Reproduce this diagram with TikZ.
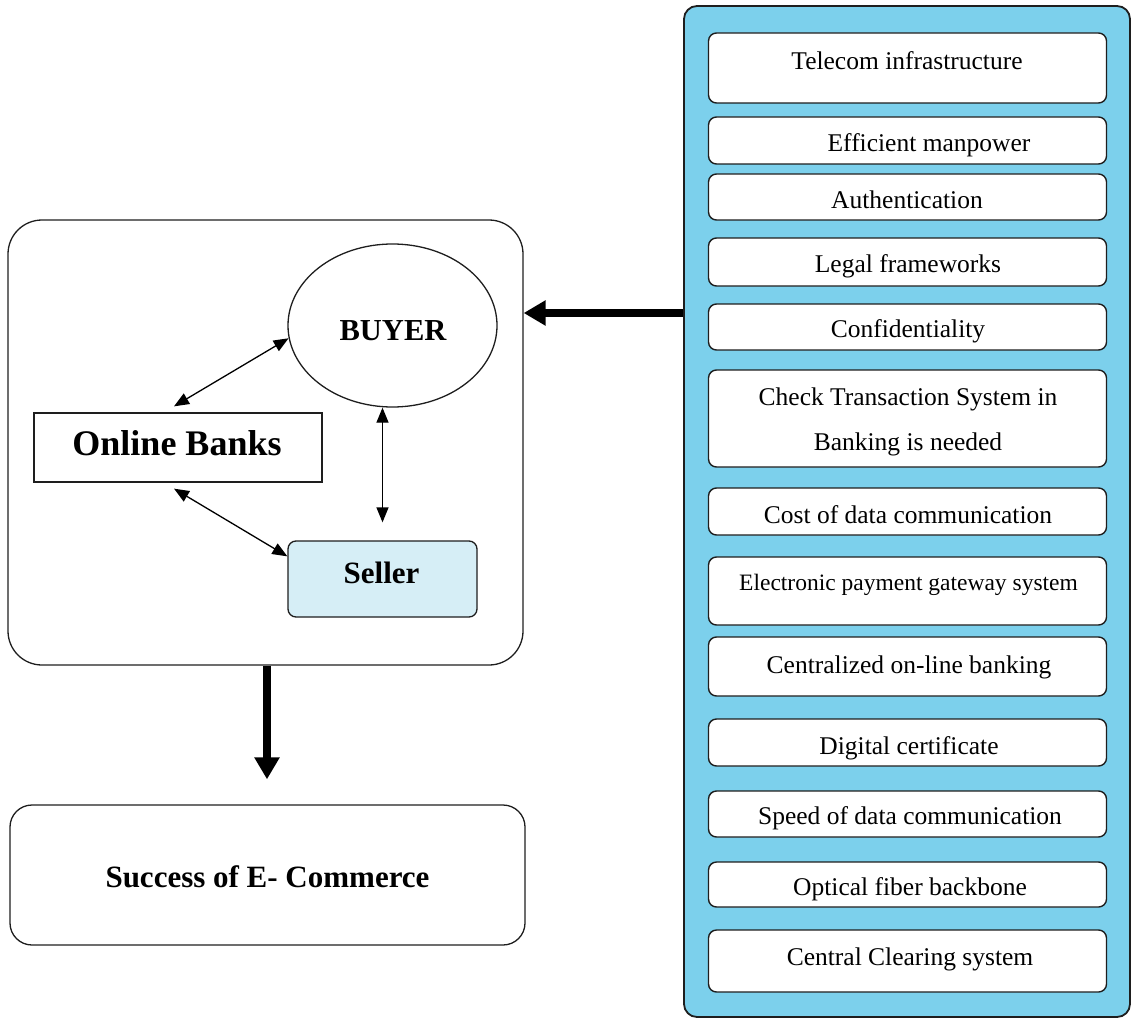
\documentclass[tikz,border=0pt]{standalone}
\usepackage{fontspec}
\setmainfont{Liberation Serif}
\usetikzlibrary{arrows.meta,shapes.geometric,calc}
\definecolor{panelblue}{RGB}{124,208,236}
\definecolor{sellerblue}{RGB}{214,238,246}
\definecolor{edge}{RGB}{30,30,30}
\begin{document}
\begin{tikzpicture}[x=1pt,y=-1pt,
  panel/.style={draw=edge, line width=1.8pt, fill=panelblue, rounded corners=13pt, inner sep=0pt},
  itembox/.style={draw=edge, line width=1.4pt, fill=white, rounded corners=8pt, minimum width=398pt, inner sep=0pt},
  itemtext/.style={anchor=base, inner sep=0pt, font=\fontsize{25.5}{30}\selectfont},
  corebox/.style={draw=edge, line width=1.3pt, rounded corners=34pt, inner sep=0pt},
  endbox/.style={draw=edge, line width=1.3pt, rounded corners=22pt, inner sep=0pt},
  plainbox/.style={draw=edge, line width=1.3pt, inner sep=0pt},
  sellerbox/.style={draw=edge, line width=1.3pt, fill=sellerblue, rounded corners=8pt, inner sep=0pt},
  buyershape/.style={draw=edge, line width=1.3pt, ellipse, inner sep=0pt},
  boldtext/.style={anchor=base, inner sep=0pt, font=\bfseries\fontsize{#1}{#1}\selectfont},
  thinlink/.style={line width=1.3pt, {Triangle[length=15pt,width=12pt]}-{Triangle[length=15pt,width=12pt]}},
  flow/.style={line width=8pt, -{Triangle[length=22pt,width=24pt]}}
]
\useasboundingbox (0,0) rectangle (1134,1019);

% ---- factor panel on the right ----
\node[panel, minimum width=446pt, minimum height=1011pt] (panel) at (907,511.5) {};

\node[itembox, minimum height=70pt] (b1)  at (907.5,68)    {};
\node[itembox, minimum height=47pt] (b2)  at (907.5,140.5) {};
\node[itembox, minimum height=46pt] (b3)  at (907.5,197)   {};
\node[itembox, minimum height=48pt] (b4)  at (907.5,262)   {};
\node[itembox, minimum height=46pt] (b5)  at (907.5,327)   {};
\node[itembox, minimum height=97pt] (b6)  at (907.5,418.5) {};
\node[itembox, minimum height=47pt] (b7)  at (907.5,511.5) {};
\node[itembox, minimum height=68pt] (b8)  at (907.5,591)   {};
\node[itembox, minimum height=59pt] (b9)  at (907.5,666.5) {};
\node[itembox, minimum height=47pt] (b10) at (907.5,742.5) {};
\node[itembox, minimum height=46pt] (b11) at (907.5,814)   {};
\node[itembox, minimum height=45pt] (b12) at (907.5,884.5) {};
\node[itembox, minimum height=62pt] (b13) at (907.5,961)   {};

\node[itemtext] (t1)  at (907,70)  {Telecom infrastructure};
\node[itemtext] (t2)  at (929,152) {Efficient manpower};
\node[itemtext] (t3)  at (907,208) {Authentication};
\node[itemtext] (t4)  at (908,272) {Legal frameworks};
\node[itemtext] (t5)  at (908,337) {Confidentiality};
\node[itemtext] (t6a) at (908,405) {Check Transaction System in};
\node[itemtext] (t6b) at (908,450) {Banking is needed};
\node[itemtext] (t7)  at (908,523) {Cost of data communication};
\node[itemtext, font=\fontsize{23.5}{28}\selectfont] (t8) at (908.5,590) {Electronic payment gateway system};
\node[itemtext] (t9)  at (909,673) {Centralized on-line banking};
\node[itemtext] (t10) at (909,754) {Digital certificate};
\node[itemtext] (t11) at (910,824) {Speed of data communication};
\node[itemtext] (t12) at (910,895) {Optical fiber backbone};
\node[itemtext] (t13) at (910,965) {Central Clearing system};

% ---- transaction parties on the left ----
\node[corebox, minimum width=515pt, minimum height=445pt] (core) at (265.5,442.5) {};
\node[buyershape, minimum width=209pt, minimum height=163pt] (buyer) at (392.5,325.5) {};
\node[boldtext=30.5] (buyertext) at (393,340) {BUYER};
\node[plainbox, minimum width=288pt, minimum height=69pt] (banks) at (178,447.5) {};
\node[boldtext=36] (bankstext) at (177,455) {Online Banks};
\node[sellerbox, minimum width=189pt, minimum height=76pt] (seller) at (382.5,579) {};
\node[boldtext=31] (sellertext) at (381.5,583) {Seller};

\node[endbox, minimum width=515pt, minimum height=140pt] (success) at (267.5,875) {};
\node[boldtext=31] (successtext) at (267.5,887) {Success of E- Commerce};

% ---- links ----
\draw[thinlink] ([xshift=-4pt,yshift=6pt]banks.north) -- (buyer.187);
\draw[thinlink] ([xshift=-4pt,yshift=-6pt]banks.south) -- ([yshift=-16pt]seller.north west);
\draw[thinlink] (seller.north |- buyer.south) -- ([yshift=18pt]seller.north);

\coordinate (feedrow) at (0,313);
\draw[flow] (panel.west |- feedrow) -- (core.east |- feedrow);
\draw[flow, shorten >=25pt] ([xshift=1.5pt]core.south) -- ([xshift=-0.5pt]success.north);
\end{tikzpicture}
\end{document}
